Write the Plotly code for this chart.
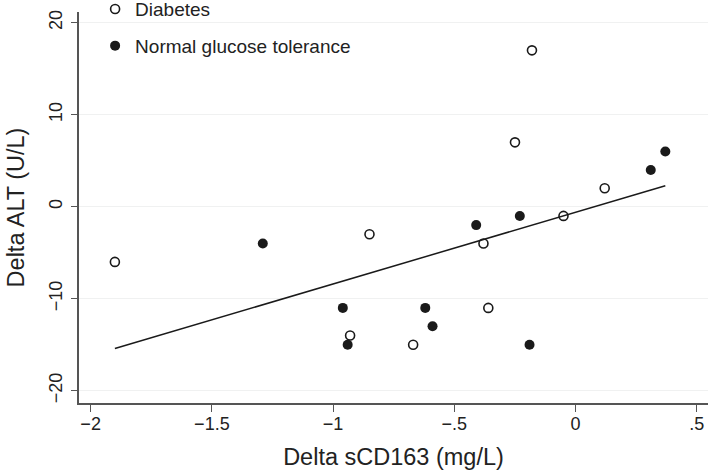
import numpy as np
import plotly.graph_objects as go

# Data
diab_x = [-1.90, -0.93, -0.85, -0.67, -0.38, -0.36, -0.25, -0.18, -0.05, 0.12]
diab_y = [-6, -14, -3, -15, -4, -11, 7, 17, -1, 2]
ngt_x = [-1.29, -0.96, -0.94, -0.62, -0.59, -0.41, -0.23, -0.19, 0.31, 0.37]
ngt_y = [-4, -11, -15, -11, -13, -2, -1, -15, 4, 6]

x_ticks = [-2, -1.5, -1, -0.5, 0, 0.5]
x_tick_labels = ["\u22122", "\u22121.5", "\u22121", "\u2212.5", "0", ".5"]
y_ticks = [-20, -10, 0, 10, 20]
y_tick_labels = ["\u221220", "\u221210", "0", "10", "20"]

# Linear fit over all points
all_x = np.array(diab_x + ngt_x)
all_y = np.array(diab_y + ngt_y)
slope, intercept = np.polyfit(all_x, all_y, 1)
fit_x = np.array([all_x.min(), all_x.max()])
fit_y = slope * fit_x + intercept

FONT = "Liberation Sans, Arial, sans-serif"

fig = go.Figure()
fig.add_trace(go.Scatter(
    x=diab_x, y=diab_y, mode="markers", name="Diabetes",
    legendgroup="a",
    marker=dict(symbol="circle", size=9, color="white",
                line=dict(color="#1a1a1a", width=1.6)),
))
fig.add_trace(go.Scatter(
    x=ngt_x, y=ngt_y, mode="markers", name="Normal glucose tolerance",
    legendgroup="b",
    marker=dict(symbol="circle", size=10, color="#1a1a1a",
                line=dict(color="#1a1a1a", width=0)),
))
fig.add_trace(go.Scatter(
    x=fit_x, y=fit_y, mode="lines", showlegend=False,
    line=dict(color="#1a1a1a", width=1.5),
))

fig.update_layout(
    width=709, height=475,
    margin=dict(l=79, r=1, t=12, b=72, autoexpand=False),
    paper_bgcolor="white", plot_bgcolor="white",
    font=dict(family=FONT, color="#222222"),
    showlegend=True,
    legend=dict(
        x=0.0256, y=1.056, xanchor="left", yanchor="top",
        bgcolor="rgba(0,0,0,0)",
        font=dict(size=19, family=FONT, color="#222222"),
        tracegroupgap=9,
        traceorder="grouped",
    ),
    xaxis=dict(
        range=[-2.048, 0.546],
        tickvals=x_ticks, ticktext=x_tick_labels,
        ticks="outside", ticklen=7, tickcolor="#555555", tickwidth=1.2,
        ticklabelstandoff=-3,
        showline=True, linecolor="#555555", linewidth=1.5,
        showgrid=False, zeroline=False, automargin=False,
        tickfont=dict(size=18, family=FONT, color="#222222"),
        title=dict(text="Delta sCD163 (mg/L)",
                   font=dict(size=23.5, family=FONT, color="#222222"),
                   standoff=15),
    ),
    yaxis=dict(
        range=[-21.34, 21.17],
        tickvals=y_ticks, ticktext=y_tick_labels,
        tickangle=-90,
        ticks="outside", ticklen=6, tickcolor="#555555", tickwidth=1.2,
        ticklabelstandoff=2,
        showline=True, linecolor="#555555", linewidth=1.5,
        showgrid=True, gridcolor="#f0f1f1", gridwidth=1,
        zeroline=False, automargin=False,
        tickfont=dict(size=18, family=FONT, color="#222222"),
        title=dict(text="Delta ALT (U/L)",
                   font=dict(size=23.5, family=FONT, color="#222222"),
                   standoff=15),
    ),
)

fig.write_html("out.html", config={"displayModeBar": False},
               post_script="document.body.style.margin='0';")
